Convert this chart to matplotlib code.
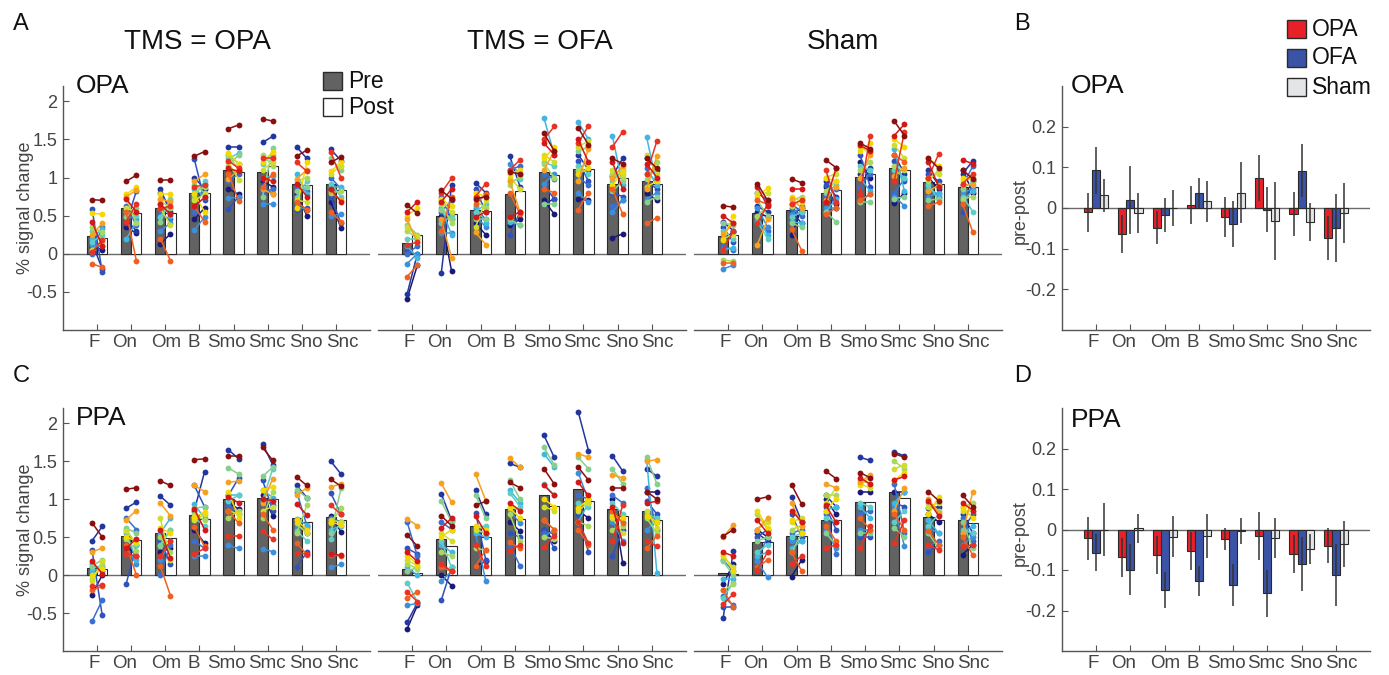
import numpy as np
import matplotlib
matplotlib.use('Agg')
import matplotlib.pyplot as plt
from matplotlib.patches import Rectangle
from matplotlib.transforms import ScaledTranslation

plt.rcParams['font.family'] = ['Liberation Sans', 'DejaVu Sans']

conditions = ['F', 'On', 'Om', 'B', 'Smo', 'Smc', 'Sno', 'Snc']
panel_titles = ['TMS = OPA', 'TMS = OFA', 'Sham']
roi_names = ['OPA', 'PPA']
diff_labels = ['OPA', 'OFA', 'Sham']

# ---- group means (bars) ----
opa_tmsopa_pre = [0.23, 0.60, 0.60, 0.80, 1.10, 1.07, 0.91, 0.91]
opa_tmsopa_post = [0.21, 0.54, 0.54, 0.80, 1.07, 1.15, 0.90, 0.84]
opa_tmsofa_pre = [0.145, 0.50, 0.58, 0.79, 1.07, 1.11, 0.91, 0.96]
opa_tmsofa_post = [0.24, 0.52, 0.56, 0.82, 1.035, 1.105, 1.00, 0.92]
opa_sham_pre = [0.23, 0.53, 0.58, 0.80, 1.01, 1.12, 0.94, 0.88]
opa_sham_post = [0.25, 0.51, 0.58, 0.83, 1.05, 1.10, 0.92, 0.87]
ppa_tmsopa_pre = [0.087, 0.52, 0.55, 0.79, 1.00, 1.02, 0.755, 0.77]
ppa_tmsopa_post = [0.074, 0.46, 0.485, 0.74, 0.98, 1.00, 0.695, 0.72]
ppa_tmsofa_pre = [0.083, 0.48, 0.65, 0.87, 1.05, 1.135, 0.87, 0.84]
ppa_tmsofa_post = [0.026, 0.38, 0.50, 0.74, 0.91, 0.97, 0.78, 0.73]
ppa_sham_pre = [0.03, 0.44, 0.51, 0.73, 0.96, 1.09, 0.77, 0.73]
ppa_sham_post = [0.02, 0.44, 0.51, 0.725, 0.96, 1.01, 0.73, 0.69]

# ---- individual subjects (rows = conditions, 16 subjects each) ----
opa_tmsopa_pre_subj = [
    [0.10, 0.15, 0.59, 0.00, 0.12, 0.20, 0.15, 0.30, 0.35, 0.05, 0.53, 0.25, -0.13, 0.02, 0.42, 0.71],
    [0.35, 0.45, 0.40, 0.62, 0.50, 0.19, 0.55, 0.48, 0.73, 0.60, 0.78, 0.75, 0.55, 0.42, 0.72, 0.95],
    [0.13, 0.85, 0.80, 0.52, 0.30, 0.65, 0.48, 0.42, 0.70, 0.60, 0.78, 0.72, 0.20, 0.60, 0.65, 0.97],
    [0.45, 1.00, 1.24, 0.55, 0.31, 0.85, 0.75, 0.90, 0.80, 0.70, 0.78, 0.95, 0.62, 0.88, 0.62, 1.28],
    [0.85, 1.40, 0.59, 0.95, 0.73, 1.30, 1.25, 1.15, 1.30, 1.20, 1.32, 0.98, 1.05, 1.22, 1.12, 1.64],
    [0.95, 1.46, 0.90, 0.80, 0.65, 1.00, 1.18, 0.75, 1.30, 1.10, 1.20, 0.85, 0.88, 1.25, 1.00, 1.77],
    [0.78, 1.40, 0.57, 0.88, 0.62, 1.05, 0.75, 0.82, 0.95, 0.70, 0.60, 0.98, 0.68, 1.20, 0.92, 1.28],
    [0.68, 1.37, 0.75, 1.00, 0.50, 0.88, 0.92, 1.25, 0.80, 1.05, 1.08, 0.82, 0.55, 1.33, 0.85, 1.20]]
opa_tmsopa_post_subj = [
    [0.05, -0.20, -0.24, 0.35, 0.10, 0.33, 0.25, 0.20, 0.28, 0.15, 0.52, 0.40, -0.18, 0.18, 0.10, 0.70],
    [0.27, 0.30, 0.82, 0.38, 0.45, 0.42, 0.50, 0.60, 0.40, 0.55, 0.87, 0.83, -0.09, 0.65, 0.55, 1.03],
    [0.26, 0.55, 0.60, 0.45, 0.40, 0.50, 0.70, 0.72, 0.60, 0.38, 0.78, 0.68, -0.09, 0.62, 0.52, 0.97],
    [0.60, 0.85, 0.70, 0.92, 0.48, 0.75, 0.95, 0.80, 0.88, 0.78, 0.55, 1.04, 0.42, 0.90, 0.74, 1.34],
    [0.78, 1.40, 0.75, 1.05, 0.74, 1.18, 1.32, 1.30, 1.10, 0.97, 1.18, 1.10, 0.69, 1.12, 1.08, 1.69],
    [0.88, 1.54, 0.78, 0.85, 0.65, 1.02, 1.30, 1.39, 1.15, 1.20, 1.34, 0.78, 1.05, 1.25, 0.95, 1.74],
    [0.50, 1.25, 0.60, 0.82, 0.58, 0.78, 0.95, 0.88, 1.00, 0.68, 1.20, 1.10, 0.58, 1.08, 0.75, 1.36],
    [0.34, 1.22, 0.40, 0.85, 0.52, 0.88, 0.75, 1.10, 0.82, 1.15, 1.20, 0.70, 0.42, 1.00, 0.68, 1.27]]

opa_tmsofa_pre_subj = [
    [-0.59, -0.53, 0.05, 0.00, -0.13, 0.10, 0.20, 0.38, 0.30, 0.35, 0.50, 0.45, -0.30, 0.12, 0.55, 0.64],
    [0.50, -0.25, 0.55, 0.75, 0.27, 0.60, 0.40, 0.58, 0.65, 0.70, 0.72, 0.45, 0.30, 0.80, 0.68, 0.83],
    [0.40, 0.93, 0.85, 0.60, 0.50, 0.62, 0.55, 0.45, 0.70, 0.35, 0.80, 0.28, 0.65, 0.75, 0.48, 0.72],
    [0.38, 1.28, 0.25, 1.10, 1.18, 0.42, 0.95, 0.45, 0.90, 1.00, 1.05, 0.95, 0.80, 1.10, 0.48, 1.07],
    [0.70, 0.65, 0.90, 1.05, 0.92, 1.78, 1.20, 0.65, 1.18, 1.30, 1.25, 1.10, 0.85, 1.50, 1.45, 1.58],
    [0.72, 1.30, 1.22, 1.00, 0.80, 1.73, 1.15, 1.35, 1.10, 1.40, 1.05, 0.95, 0.58, 1.45, 1.50, 1.65],
    [0.21, 1.02, 0.80, 0.62, 0.55, 1.54, 0.95, 0.82, 1.05, 1.10, 0.90, 1.00, 0.85, 1.40, 1.20, 1.25],
    [0.80, 1.25, 0.95, 1.12, 0.72, 1.53, 1.05, 0.68, 0.98, 1.30, 0.88, 0.85, 0.40, 1.05, 1.18, 1.25]]
opa_tmsofa_post_subj = [
    [-0.15, 0.00, -0.02, 0.10, 0.00, -0.05, 0.20, 0.25, 0.20, 0.23, 0.60, 0.15, -0.15, 0.15, 0.68, 0.53],
    [-0.23, 0.90, 0.70, 0.45, 0.27, 0.25, 0.50, 0.45, 0.40, 0.55, 0.62, -0.05, 0.75, 0.99, 0.85, 0.72],
    [0.25, 0.80, 0.55, 0.45, 0.35, 0.40, 0.65, 0.45, 0.60, 0.70, 0.75, 0.12, 0.78, 0.92, 0.55, 0.75],
    [0.45, 0.88, 0.55, 1.15, 1.05, 0.38, 0.98, 0.38, 1.02, 0.85, 1.10, 0.55, 0.52, 1.23, 0.55, 1.05],
    [0.52, 0.72, 0.72, 0.98, 1.05, 1.30, 1.15, 0.65, 1.00, 1.20, 1.40, 1.35, 0.80, 1.67, 1.30, 1.35],
    [0.70, 1.10, 0.95, 0.90, 0.68, 1.50, 1.05, 1.40, 1.20, 1.48, 1.12, 1.38, 0.80, 1.68, 1.20, 1.43],
    [0.26, 1.25, 0.75, 0.70, 0.70, 0.90, 1.10, 0.95, 1.00, 1.05, 1.08, 1.15, 0.52, 1.60, 0.85, 1.18],
    [0.70, 1.10, 0.85, 0.90, 0.80, 0.90, 0.95, 0.75, 1.20, 1.05, 0.95, 1.28, 0.47, 1.48, 1.00, 1.12]]

opa_sham_pre_subj = [
    [0.20, 0.42, 0.35, 0.10, -0.20, 0.05, 0.30, 0.40, -0.08, 0.20, 0.18, 0.26, -0.12, 0.05, 0.50, 0.63],
    [0.55, 0.62, 0.80, 0.45, 0.60, 0.48, 0.42, 0.70, 0.50, 0.80, 0.75, 0.12, 0.70, 0.40, 0.88, 0.92],
    [0.25, 0.55, 0.65, 0.60, 0.52, 0.42, 0.48, 0.40, 0.70, 0.62, 0.75, 0.72, 0.32, 0.65, 0.85, 0.98],
    [0.88, 0.95, 0.90, 0.75, 0.60, 0.55, 0.80, 0.55, 0.82, 1.00, 1.00, 0.70, 0.52, 1.10, 0.68, 1.23],
    [1.20, 1.05, 1.30, 0.88, 0.70, 1.00, 1.15, 0.68, 1.10, 1.40, 1.35, 1.00, 0.70, 0.78, 1.42, 1.45],
    [0.66, 1.30, 1.22, 0.80, 0.75, 1.38, 1.10, 0.72, 1.15, 1.43, 1.50, 1.02, 1.30, 0.95, 1.55, 1.74],
    [1.00, 1.10, 1.05, 0.88, 0.75, 0.85, 0.90, 0.70, 0.95, 1.00, 1.25, 0.82, 0.62, 1.00, 1.20, 1.25],
    [1.10, 1.05, 0.55, 0.90, 0.80, 0.70, 0.75, 0.85, 0.72, 0.95, 1.00, 0.90, 0.65, 0.92, 1.23, 1.10]]
opa_sham_post_subj = [
    [0.28, 0.30, 0.15, 0.05, -0.15, 0.08, 0.20, 0.38, -0.10, 0.25, 0.50, 0.40, -0.12, 0.30, 0.40, 0.61],
    [0.48, 0.55, 0.70, 0.30, 0.35, 0.25, 0.20, 0.50, 0.62, 0.80, 0.86, 0.45, 0.65, 0.65, 0.62, 0.70],
    [0.60, 0.40, 0.55, 0.50, 0.62, 0.40, 0.55, 0.35, 0.75, 0.72, 0.68, 0.60, 0.04, 0.70, 0.85, 0.93],
    [0.65, 0.75, 0.60, 0.85, 0.60, 0.72, 0.90, 0.42, 0.95, 1.05, 0.95, 0.88, 0.60, 0.68, 1.12, 1.13],
    [1.00, 1.12, 0.88, 1.05, 0.78, 0.82, 1.10, 0.68, 1.20, 1.32, 1.45, 1.30, 0.78, 1.55, 1.35, 1.38],
    [0.80, 1.05, 0.95, 0.98, 0.63, 0.82, 1.00, 0.75, 1.10, 1.25, 1.40, 1.12, 1.20, 1.60, 1.70, 1.55],
    [0.85, 0.90, 0.95, 0.75, 0.80, 0.78, 0.70, 0.72, 1.10, 1.05, 1.15, 0.90, 0.68, 1.31, 0.88, 1.12],
    [0.80, 1.22, 0.95, 1.15, 0.85, 0.82, 0.55, 0.95, 0.75, 1.00, 0.98, 0.90, 0.28, 1.05, 1.18, 0.98]]

ppa_tmsopa_pre_subj = [
    [-0.26, 0.45, 0.33, -0.61, 0.15, 0.05, 0.10, 0.12, -0.05, -0.08, 0.00, 0.30, -0.20, -0.15, 0.18, 0.69],
    [0.40, 0.88, -0.12, 0.75, 0.35, 0.55, 0.60, 0.62, 0.48, 0.58, 0.50, 0.73, 0.40, 0.28, 0.35, 1.13],
    [0.30, 1.04, 0.45, 0.00, 0.20, 0.55, 0.40, 0.38, 0.50, 0.75, 0.62, 0.95, 0.12, 0.25, 0.60, 1.24],
    [0.60, 0.85, 1.18, 0.45, 0.25, 0.93, 0.75, 0.88, 0.80, 0.72, 0.76, 1.18, 0.63, 0.28, 0.87, 1.52],
    [0.95, 1.65, 1.05, 0.93, 0.39, 1.05, 0.98, 1.41, 0.75, 0.85, 1.10, 1.22, 0.85, 0.51, 1.03, 1.57],
    [1.05, 1.73, 1.25, 1.00, 0.34, 1.12, 0.98, 1.30, 0.75, 0.85, 1.12, 0.95, 0.80, 0.58, 1.00, 1.68],
    [0.70, 1.18, 0.11, 1.10, 0.62, 0.74, 0.58, 1.12, 0.55, 0.68, 0.72, 1.05, 0.42, 0.29, 0.94, 1.29],
    [0.78, 1.50, 1.08, 0.75, 0.10, 0.60, 0.48, 0.55, 0.68, 0.72, 0.70, 1.16, 0.27, 0.92, 0.28, 1.26]]
ppa_tmsopa_post_subj = [
    [0.00, 0.64, -0.53, -0.33, 0.05, 0.10, 0.12, 0.20, 0.15, 0.18, 0.08, 0.36, -0.15, -0.13, 0.02, 0.50],
    [0.25, 0.96, 0.40, 0.60, 0.15, 0.20, 0.40, 0.55, 0.32, 0.42, 0.45, 0.85, 0.00, 0.25, 0.48, 1.15],
    [0.35, 0.92, 0.15, 0.40, 0.45, 0.75, 0.60, 0.60, 0.30, 0.20, 0.55, 0.78, -0.27, 0.45, 0.22, 1.18],
    [0.42, 1.36, 0.90, 0.35, 0.25, 0.75, 0.65, 0.90, 0.72, 0.80, 0.83, 1.10, 0.38, 0.35, 0.60, 1.53],
    [0.87, 1.53, 1.28, 0.80, 0.35, 1.05, 1.05, 1.33, 0.85, 0.80, 0.75, 1.24, 0.68, 0.51, 0.95, 1.57],
    [0.78, 1.45, 0.85, 0.92, 0.31, 1.02, 1.40, 1.42, 1.10, 0.90, 1.16, 1.27, 0.60, 0.47, 0.98, 1.51],
    [0.55, 1.02, 0.30, 0.65, 0.62, 0.66, 0.45, 1.02, 0.92, 0.55, 0.60, 1.15, 0.27, 0.28, 0.79, 1.18],
    [0.57, 1.33, 0.80, 0.70, 0.14, 0.65, 0.70, 1.14, 0.88, 0.70, 0.66, 1.20, 0.25, 0.80, 0.26, 1.17]]

ppa_tmsofa_pre_subj = [
    [-0.71, -0.62, 0.35, 0.70, -0.40, 0.10, -0.10, 0.05, 0.15, 0.20, 0.25, 0.74, -0.30, -0.22, 0.30, 0.53],
    [0.00, 1.07, -0.33, 0.70, -0.08, 0.40, 0.45, 0.97, 0.30, 0.55, 0.50, 1.21, 0.10, 0.15, 0.62, 0.78],
    [0.12, 1.12, 0.82, 0.60, 0.55, 0.55, 0.62, 1.05, 0.35, 0.60, 0.65, 1.33, 0.12, 0.40, 0.78, 0.92],
    [0.70, 1.47, 0.55, 0.40, 0.85, 1.12, 1.08, 1.25, 0.80, 0.90, 0.88, 1.54, 0.43, 0.32, 0.95, 1.22],
    [0.60, 1.84, 0.60, 0.55, 0.50, 1.60, 1.20, 1.68, 0.50, 0.90, 1.00, 0.72, 0.72, 0.37, 1.18, 1.40],
    [0.85, 2.15, 0.80, 1.05, 1.35, 0.70, 0.95, 1.55, 0.70, 0.85, 0.88, 1.60, 0.60, 0.70, 1.22, 1.42],
    [1.00, 1.57, 0.25, 1.05, 0.70, 0.80, 0.95, 1.40, 0.60, 0.75, 0.78, 1.32, 0.85, 0.45, 0.90, 1.15],
    [1.10, 1.40, 0.98, 1.15, 0.60, 1.52, 0.80, 1.55, 0.75, 0.85, 0.78, 1.50, 0.35, 0.45, 0.95, 1.10]]
ppa_tmsofa_post_subj = [
    [-0.40, -0.37, 0.28, 0.25, -0.37, 0.00, -0.35, 0.10, 0.08, 0.12, 0.15, 0.65, -0.22, -0.35, 0.18, 0.38],
    [-0.14, 0.72, 0.10, 0.60, 0.05, 0.30, 0.10, 0.70, 0.25, 0.45, 0.60, 0.96, 0.05, 0.05, 0.75, 0.65],
    [0.18, 0.80, 0.20, 0.55, -0.08, 0.50, 0.65, 0.75, 0.33, 0.55, 0.60, 0.98, 0.33, 0.12, 0.55, 0.97],
    [0.58, 1.42, 0.50, 0.12, 0.68, 0.95, 0.90, 1.00, 0.45, 0.85, 0.75, 1.42, 0.35, 0.40, 0.85, 1.15],
    [0.45, 1.55, 0.35, 0.55, 0.60, 1.42, 1.05, 1.45, 0.48, 0.85, 0.90, 0.60, 0.60, 0.52, 1.05, 1.20],
    [0.75, 1.64, 0.30, 1.00, 0.98, 0.95, 0.90, 1.40, 0.65, 0.95, 1.00, 1.55, 0.40, 0.42, 1.05, 1.25],
    [0.16, 1.37, 0.60, 0.95, 0.45, 0.70, 0.80, 1.20, 0.65, 0.55, 0.75, 1.28, 0.68, 0.92, 0.42, 1.15],
    [1.10, 1.30, 0.80, 0.60, 0.70, 0.03, 0.75, 1.20, 0.55, 0.62, 0.70, 1.52, 0.52, 0.38, 0.97, 1.00]]

ppa_sham_pre_subj = [
    [-0.12, -0.57, -0.42, -0.28, 0.20, -0.05, -0.30, 0.18, -0.20, 0.25, 0.28, 0.50, -0.20, -0.38, 0.30, 0.51],
    [0.60, 0.55, 0.50, 0.20, 0.18, 0.25, 0.30, 0.45, 0.80, 0.60, 0.85, 0.60, 0.10, 0.07, 0.72, 1.00],
    [-0.02, 1.03, 0.80, 0.55, 0.45, 0.35, 0.50, 0.30, 0.60, 0.70, 0.72, 0.95, 0.30, 0.15, 0.85, 1.19],
    [1.00, 1.05, 0.90, 0.80, 0.60, 0.85, 0.75, 0.55, 1.05, 0.95, 0.85, 1.20, 0.65, 0.35, 0.92, 1.37],
    [1.10, 1.55, 0.50, 0.80, 0.60, 0.90, 0.95, 0.55, 1.25, 1.20, 1.18, 1.22, 0.75, 0.35, 1.28, 1.35],
    [1.10, 1.62, 0.95, 1.20, 0.90, 0.95, 0.70, 0.62, 1.50, 1.40, 1.25, 0.85, 0.80, 0.42, 1.25, 1.60],
    [0.80, 0.88, 0.30, 0.38, 0.62, 0.72, 0.65, 0.55, 0.95, 0.90, 0.80, 1.00, 0.58, 0.40, 0.98, 1.10],
    [0.27, 0.80, 0.60, 0.75, 0.40, 0.55, 0.60, 0.70, 0.90, 0.85, 0.88, 0.55, 0.50, 0.38, 0.95, 1.05]]
ppa_sham_post_subj = [
    [0.15, 0.32, -0.42, -0.40, 0.05, -0.05, -0.10, 0.00, -0.12, 0.10, 0.05, 0.66, -0.42, -0.25, 0.25, 0.60],
    [0.50, 0.45, 0.60, 0.50, -0.03, 0.30, 0.40, 0.50, 0.60, 0.70, 0.62, 0.75, 0.20, 0.30, 0.55, 1.03],
    [0.20, 0.70, 0.50, 0.60, 0.45, 0.45, 0.55, 0.55, 0.65, 0.75, 0.55, 0.65, 0.05, 0.25, 0.70, 0.93],
    [0.80, 0.90, 0.60, 0.28, 0.35, 0.90, 0.70, 0.40, 1.05, 1.15, 1.00, 1.15, 0.45, 0.40, 0.70, 1.27],
    [1.10, 1.51, 0.50, 0.85, 0.60, 0.75, 0.90, 0.55, 1.20, 1.15, 1.30, 1.32, 0.60, 0.65, 1.20, 1.28],
    [1.10, 1.57, 0.90, 0.55, 0.38, 1.10, 0.85, 0.50, 1.40, 1.45, 1.35, 1.15, 0.60, 0.72, 1.30, 1.55],
    [0.70, 0.90, 0.40, 0.45, 0.55, 0.55, 0.80, 0.35, 0.85, 0.95, 1.03, 0.82, 0.40, 0.33, 0.78, 0.98],
    [0.40, 0.55, 0.80, 0.45, 0.50, 0.65, 0.55, 0.35, 0.95, 0.85, 0.75, 1.10, 0.26, 0.40, 0.85, 0.90]]

# ---- post-pre differences with error bars ----
opa_diff_opa = [-0.010, -0.064, -0.048, 0.007, -0.022, 0.074, -0.015, -0.074]
opa_diff_opa_err = [0.048, 0.047, 0.040, 0.047, 0.049, 0.056, 0.054, 0.054]
opa_diff_ofa = [0.093, 0.020, -0.018, 0.036, -0.039, -0.004, 0.092, -0.049]
opa_diff_ofa_err = [0.058, 0.084, 0.042, 0.039, 0.056, 0.056, 0.065, 0.084]
opa_diff_sham = [0.031, -0.012, 0.000, 0.016, 0.037, -0.032, -0.035, -0.012]
opa_diff_sham_err = [0.041, 0.050, 0.045, 0.050, 0.075, 0.097, 0.047, 0.074]
ppa_diff_opa = [-0.022, -0.069, -0.062, -0.053, -0.024, -0.016, -0.061, -0.040]
ppa_diff_opa_err = [0.053, 0.048, 0.047, 0.046, 0.027, 0.060, 0.047, 0.043]
ppa_diff_ofa = [-0.057, -0.099, -0.150, -0.126, -0.137, -0.158, -0.085, -0.112]
ppa_diff_ofa_err = [0.046, 0.062, 0.045, 0.037, 0.052, 0.059, 0.067, 0.077]
ppa_diff_sham = [0.000, 0.003, -0.018, -0.016, -0.003, -0.021, -0.048, -0.036]
ppa_diff_sham_err = [0.065, 0.036, 0.051, 0.055, 0.032, 0.049, 0.036, 0.057]

# ---- styles ----
subj_colors = ['#1a1a78', '#2236a0', '#2f52bd', '#3a6fd0', '#3c8fdc', '#42b6e2',
               '#5ccdc8', '#84d08c', '#a8d860', '#cfdc30', '#f5d800', '#f8a020',
               '#f06020', '#e83222', '#d41818', '#8a1010']
diff_colors = ['#e8202a', '#3a53a6', '#e4e5e7']
PRE_COLOR = '#626262'
EDGE = '#2a2a2a'
AX_COLOR = '#555555'
TXT = '#444444'
W, H = 1389, 675
label_shift_px = [-3, -7, 1, -6, -7, -1, 4, 6]


def fx(x):
    return x / W


def fy(y):
    return 1 - y / H


fig = plt.figure(figsize=(13.89, 6.75), dpi=100)

lefts = [63, 378, 694, 1062]
widths = [307, 308, 308, 308]
rows = [(86, 330), (408, 651)]

bar_data = [
    [(opa_tmsopa_pre, opa_tmsopa_post, opa_tmsopa_pre_subj, opa_tmsopa_post_subj),
     (opa_tmsofa_pre, opa_tmsofa_post, opa_tmsofa_pre_subj, opa_tmsofa_post_subj),
     (opa_sham_pre, opa_sham_post, opa_sham_pre_subj, opa_sham_post_subj)],
    [(ppa_tmsopa_pre, ppa_tmsopa_post, ppa_tmsopa_pre_subj, ppa_tmsopa_post_subj),
     (ppa_tmsofa_pre, ppa_tmsofa_post, ppa_tmsofa_pre_subj, ppa_tmsofa_post_subj),
     (ppa_sham_pre, ppa_sham_post, ppa_sham_pre_subj, ppa_sham_post_subj)]]
diff_data = [
    [(opa_diff_opa, opa_diff_opa_err), (opa_diff_ofa, opa_diff_ofa_err), (opa_diff_sham, opa_diff_sham_err)],
    [(ppa_diff_opa, ppa_diff_opa_err), (ppa_diff_ofa, ppa_diff_ofa_err), (ppa_diff_sham, ppa_diff_sham_err)]]

x = np.arange(1, len(conditions) + 1)
bw = 0.3


def style_axis(ax, show_left):
    for s in ['top', 'right']:
        ax.spines[s].set_visible(False)
    ax.spines['left'].set_visible(show_left)
    ax.spines['left'].set_color(AX_COLOR)
    ax.spines['bottom'].set_color(AX_COLOR)
    ax.spines['left'].set_linewidth(1.0)
    ax.spines['bottom'].set_linewidth(1.0)
    ax.set_xlim(0, 9)
    ax.set_xticks(x)
    ax.set_xticklabels(conditions)
    ax.tick_params(axis='x', direction='in', length=4, color=AX_COLOR, labelsize=13.5,
                   labelcolor=TXT, pad=3)
    ax.tick_params(axis='y', direction='in', length=4, color=AX_COLOR, labelsize=13,
                   labelcolor=TXT, pad=4)
    for lbl, d in zip(ax.get_xticklabels(), label_shift_px):
        lbl.set_transform(lbl.get_transform() + ScaledTranslation(d / 100, 0, fig.dpi_scale_trans))
    ax.set_facecolor('none')


for r, (top, bot) in enumerate(rows):
    for c in range(3):
        ax = fig.add_axes([fx(lefts[c]), fy(bot), fx(widths[c]), (bot - top) / H])
        pre_m, post_m, pre_s, post_s = bar_data[r][c]
        ax.axhline(0, color='#6a6a6a', lw=1.0, zorder=1)
        ax.bar(x - bw / 2, pre_m, width=bw, color=PRE_COLOR, edgecolor=EDGE, linewidth=0.8, zorder=2)
        ax.bar(x + bw / 2, post_m, width=bw, color='white', edgecolor=EDGE, linewidth=0.8, zorder=2)
        for i in range(len(conditions)):
            for s in range(len(subj_colors)):
                ax.plot([x[i] - bw / 2, x[i] + bw / 2], [pre_s[i][s], post_s[i][s]], '-o',
                        color=subj_colors[s], ms=4.2, lw=1.1, mew=0, zorder=3)
        ax.set_ylim(-1.0, 2.2)
        style_axis(ax, c == 0)
        if c == 0:
            ax.set_yticks([-0.5, 0, 0.5, 1, 1.5, 2])
            ax.set_yticklabels(['-0.5', '0', '0.5', '1', '1.5', '2'])
        else:
            ax.set_yticks([])
    # difference panel
    ax = fig.add_axes([fx(lefts[3]), fy(bot), fx(widths[3]), (bot - top) / H])
    ax.axhline(0, color='#6a6a6a', lw=1.0, zorder=1)
    dw = 0.235
    for k, off in enumerate([-dw, 0, dw]):
        vals, errs = diff_data[r][k]
        ax.bar(x + off, vals, width=dw, color=diff_colors[k], edgecolor=EDGE, linewidth=0.8, zorder=2)
        ax.errorbar(x + off, vals, yerr=errs, fmt='none', ecolor='#333333', elinewidth=1.1,
                    capsize=0, zorder=3)
    ax.set_ylim(-0.3, 0.3)
    style_axis(ax, True)
    ax.set_yticks([-0.2, -0.1, 0, 0.1, 0.2])
    ax.set_yticklabels(['-0.2', '-0.1', '0', '0.1', '0.2'])

# y labels
for yc in [208, 530]:
    fig.text(fx(25), fy(yc), '% signal change', rotation=90, ha='center', va='center',
             fontsize=13, color=TXT)
    fig.text(fx(1020), fy(yc + 3), 'pre-post', rotation=90, ha='center', va='center',
             fontsize=13, color=TXT)

# titles
for xc, t in zip([197, 540, 843], panel_titles):
    fig.text(fx(xc), fy(42), t, ha='center', va='center', fontsize=20, color='#111111')

# ROI labels
fig.text(fx(76), fy(93), roi_names[0], ha='left', va='baseline', fontsize=19, color='#111111')
fig.text(fx(1071), fy(93), roi_names[0], ha='left', va='baseline', fontsize=19, color='#111111')
fig.text(fx(76), fy(425), roi_names[1], ha='left', va='baseline', fontsize=19, color='#111111')
fig.text(fx(1071), fy(427), roi_names[1], ha='left', va='baseline', fontsize=19, color='#111111')

# panel letters
for lx, ly, L in [(21, 24, 'A'), (1022, 24, 'B'), (21, 376, 'C'), (1023, 376, 'D')]:
    fig.text(fx(lx), fy(ly), L, ha='center', va='center', fontsize=17, color='#111111')

# Pre / Post legend
for (y0, y1), fc, lab in [((72, 90), PRE_COLOR, 'Pre'), ((98, 116), 'white', 'Post')]:
    fig.add_artist(Rectangle((fx(323), fy(y1)), fx(19), (y1 - y0) / H, transform=fig.transFigure,
                             facecolor=fc, edgecolor=EDGE, linewidth=1.0))
    fig.text(fx(348), fy((y0 + y1) / 2), lab, ha='left', va='center', fontsize=16.5, color='#111111')

# difference legend
for (y0, y1), fc, lab in zip([(20, 38), (49, 67), (78, 96)], diff_colors, diff_labels):
    fig.add_artist(Rectangle((fx(1287), fy(y1)), fx(19), (y1 - y0) / H, transform=fig.transFigure,
                             facecolor=fc, edgecolor=EDGE, linewidth=1.0))
    fig.text(fx(1312), fy((y0 + y1) / 2), lab, ha='left', va='center', fontsize=16.5, color='#111111')

fig.savefig('out.png', dpi=100)
